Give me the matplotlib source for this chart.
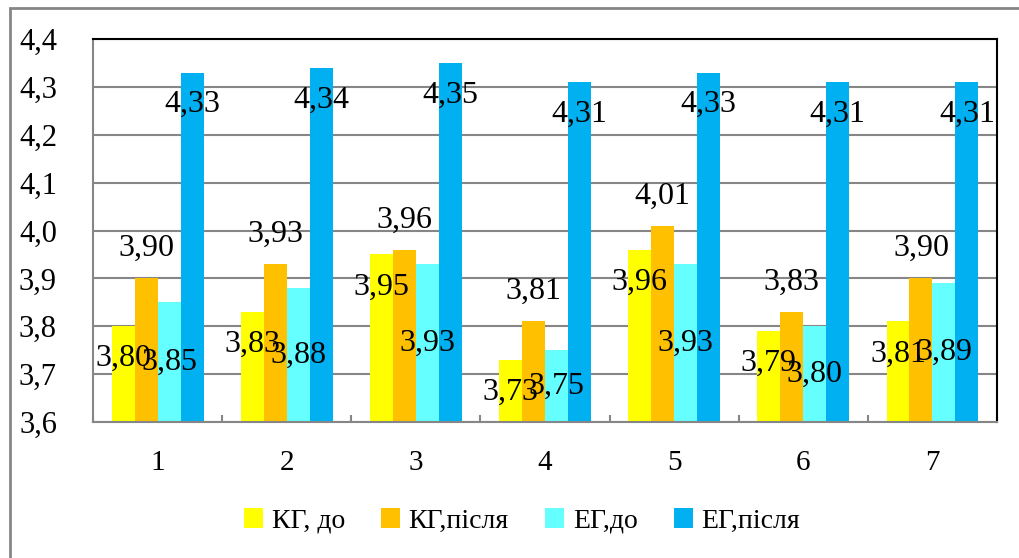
import matplotlib
matplotlib.use("Agg")
import matplotlib.pyplot as plt
import numpy as np
from matplotlib.patches import Rectangle
from matplotlib.ticker import FuncFormatter, FixedLocator

plt.rcParams['font.family'] = ['Liberation Serif', 'DejaVu Serif']

# дані
groups = ['1', '2', '3', '4', '5', '6', '7']
series = ['КГ, до', 'КГ,після', 'ЕГ,до', 'ЕГ,після']
kg_do = [3.80, 3.83, 3.95, 3.73, 3.96, 3.79, 3.81]
kg_pislia = [3.90, 3.93, 3.96, 3.81, 4.01, 3.83, 3.90]
eg_do = [3.85, 3.88, 3.93, 3.75, 3.93, 3.80, 3.89]
eg_pislia = [4.33, 4.34, 4.35, 4.31, 4.33, 4.31, 4.31]
colors = ['#FFFF00', '#FFC000', '#66FFFF', '#00B0F0']

def coma(v, dec=2):
    return f"{v:.{dec}f}".replace('.', ',')

fig = plt.figure(figsize=(10.2, 5.58), dpi=100)
ax = fig.add_axes([0.0912, 0.2437, 0.8863, 0.6863])

x = np.arange(len(groups))
w = 0.178
data = [kg_do, kg_pislia, eg_do, eg_pislia]
for i, (vals, c, name) in enumerate(zip(data, colors, series)):
    xs = x + (i - 1.5) * w
    ax.bar(xs, np.array(vals) - 3.6, width=w, bottom=3.6, color=c, label=name, zorder=2)
    for xi, v in zip(xs, vals):
        if i == 0:
            y = v - 0.068
        elif i == 1:
            y = v + 0.062
        elif i == 2:
            y = (3.6 + v) / 2
        else:
            y = v - 0.067
        ax.text(xi, y, coma(v), ha='center', va='center', fontsize=23, zorder=3)

ax.set_xlim(-0.5, len(groups) - 0.5)
ax.set_ylim(3.6, 4.4)
ax.set_yticks(np.arange(3.6, 4.41, 0.1))
ax.yaxis.set_major_formatter(FuncFormatter(lambda v, p: coma(v, 1)))
ax.set_xticks(x)
ax.set_xticklabels(groups)
ax.xaxis.set_minor_locator(FixedLocator(np.arange(-0.5, len(groups), 1.0)))
ax.tick_params(axis='x', which='major', length=0, labelsize=21, pad=20)
ax.tick_params(axis='x', which='minor', direction='in', length=5, color='#868686', width=1.5)
ax.tick_params(axis='y', length=0, labelsize=22, pad=26)
ax.grid(axis='y', color='#868686', linewidth=1.5, zorder=0)
ax.set_axisbelow(True)
for s in ['left', 'bottom']:
    ax.spines[s].set_color('#868686')
    ax.spines[s].set_linewidth(1.5)
for s in ['top', 'right']:
    ax.spines[s].set_color('black')
    ax.spines[s].set_linewidth(1.5)

fig.legend(loc='center', bbox_to_anchor=(522 / 1020, 1 - 521 / 558), ncol=4, frameon=False,
           fontsize=20, handlelength=0.7, handleheight=0.7, handletextpad=0.3, columnspacing=1.3)

# рамка навколо діаграми
fig.patches.append(Rectangle((10 / 1020, -0.1), 1.2, 1 - 8 / 558 + 0.1, transform=fig.transFigure,
                             fill=False, edgecolor='#868686', linewidth=2))

fig.savefig('out.png', dpi=100)
